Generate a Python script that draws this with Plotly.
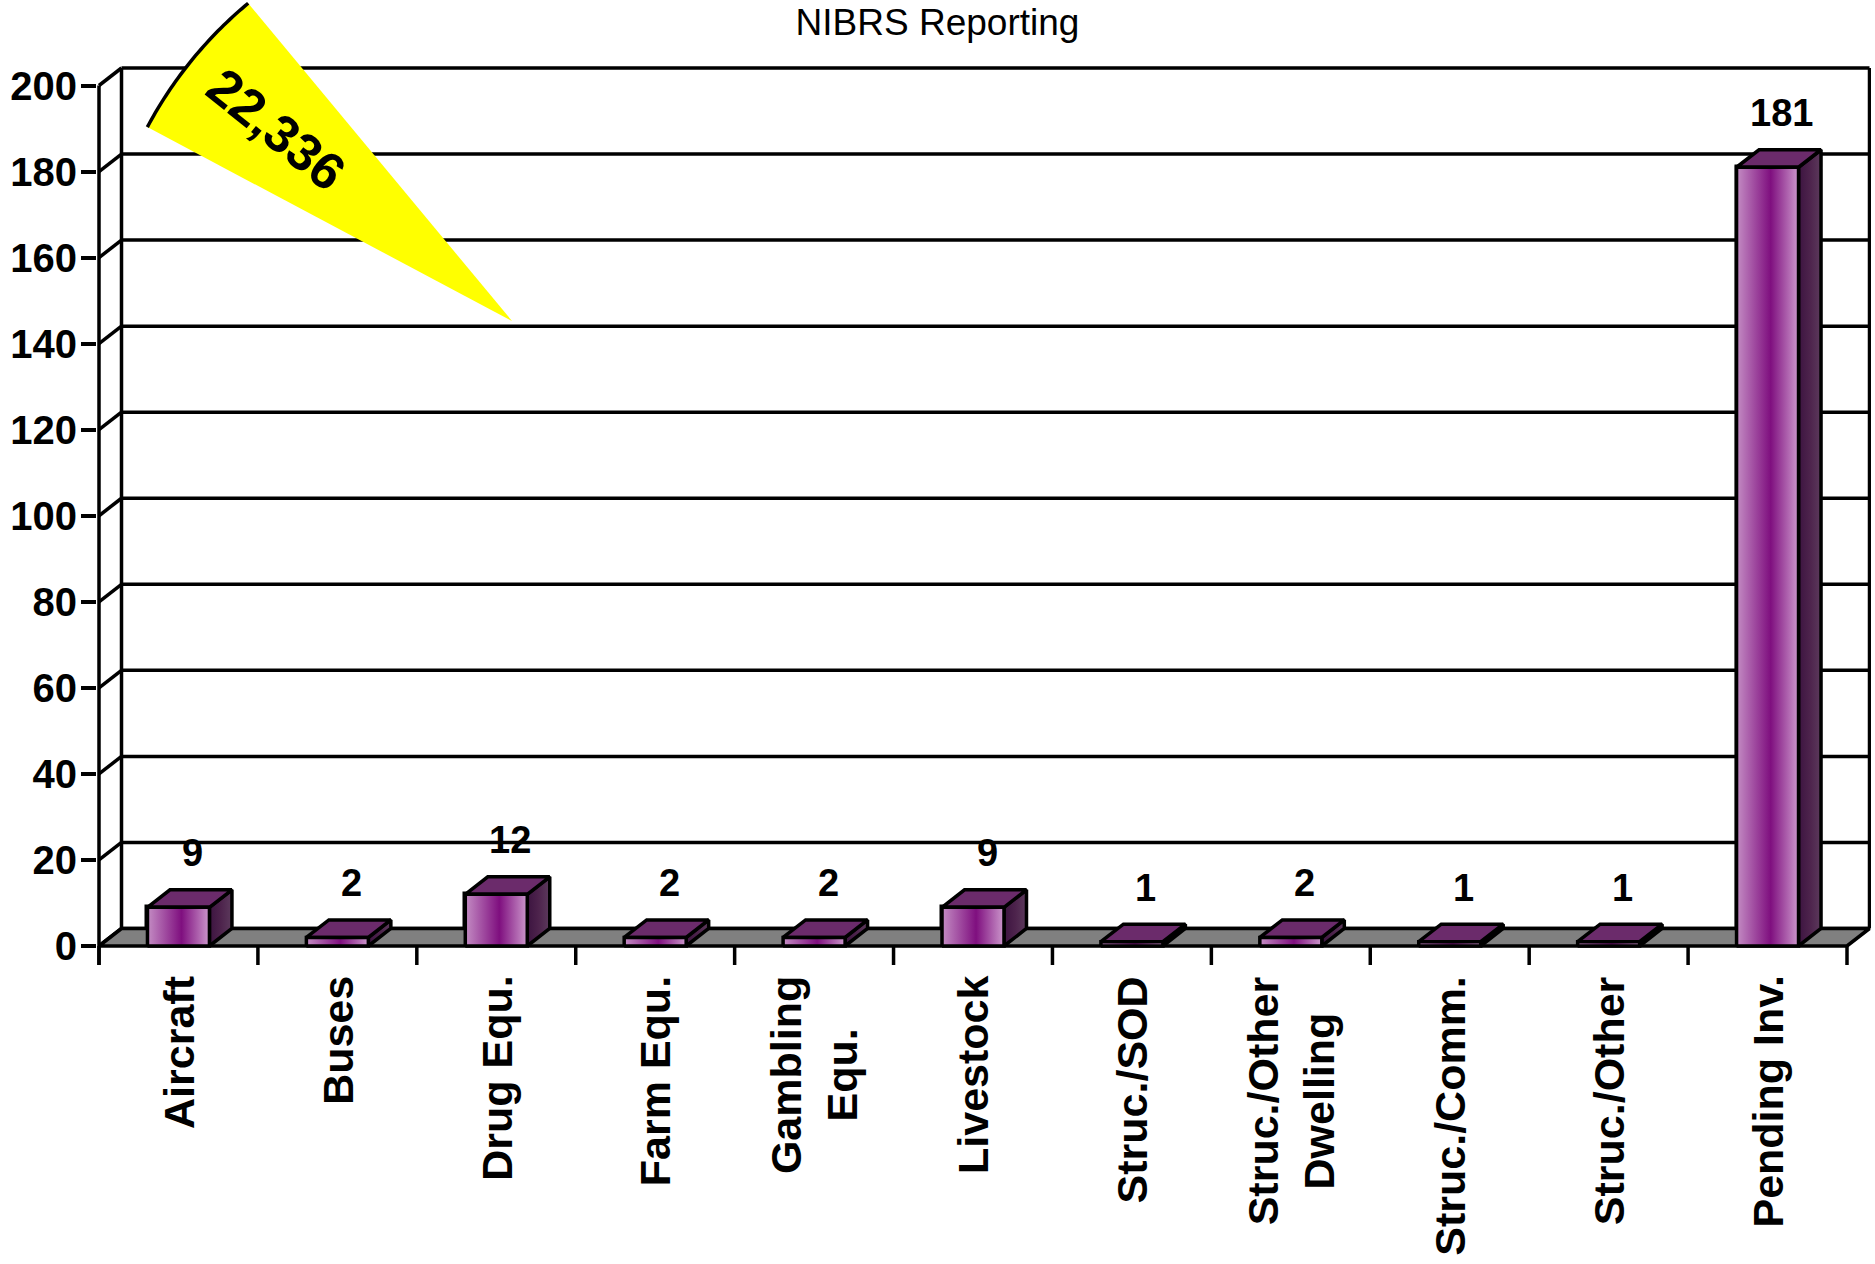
import numpy as np
import plotly.graph_objects as go

# ---------------- data ----------------
categories = ["Aircraft", "Buses", "Drug Equ.", "Farm Equ.", "Gambling<br>Equ.",
              "Livestock", "Struc./SOD", "Struc./Other<br>Dwelling", "Struc./Comm.",
              "Struc./Other", "Pending Inv."]
values = [9, 2, 12, 2, 2, 9, 1, 2, 1, 1, 181]
y_ticks = [0, 20, 40, 60, 80, 100, 120, 140, 160, 180, 200]
title_text = "NIBRS Reporting"
callout_text = "22,336"

# ---------------- geometry / style ----------------
W, H = 1875, 1264
X0_PX = 99.0                   # pixel of the left category boundary
PPX = (1847.0 - 99.0) / 11     # pixels per category
Y0_PX = 946.0                  # pixel of value 0
PPY = (946.0 - 85.5) / 200     # pixels per unit
PLOT_L, PLOT_R, PLOT_T, PLOT_B = 97, 1871, 62, 967
DX = 22.5 / PPX                # 3-D depth in data units
DY = 17.5 / PPY
BAR_W = 0.39
TICK_DOWN = 19.0 / PPY

n = len(categories)
idx = np.arange(n)

def px_to_x(px):
    return -0.5 + (px - X0_PX) / PPX

def py_to_y(py):
    return (Y0_PX - py) / PPY

def to_paper_x(px):
    return (px - PLOT_L) / (PLOT_R - PLOT_L)

def to_paper_y(py):
    return (PLOT_B - py) / (PLOT_B - PLOT_T)

SANS = "Liberation Sans, Arial, sans-serif"
LW = 3.5

fig = go.Figure()

def line_trace(xs, ys, width=LW, color="black"):
    fig.add_trace(go.Scatter(x=xs, y=ys, mode="lines", line=dict(color=color, width=width),
                             hoverinfo="skip", showlegend=False))

def poly(xs, ys, fill=None, grad=None, width=LW):
    kw = dict(fill="toself", mode="lines", line=dict(color="black", width=width),
              hoverinfo="skip", showlegend=False)
    if grad is not None:
        kw["fillgradient"] = dict(type="horizontal", colorscale=grad)
        kw["fillcolor"] = grad[1][1]
    else:
        kw["fillcolor"] = fill
    fig.add_trace(go.Scatter(x=list(xs) + [xs[0]], y=list(ys) + [ys[0]], **kw))

left_b = -0.5
right_b = n - 0.5

# base bars (front faces) through the bar module
fig.add_trace(go.Bar(x=idx, y=values, width=BAR_W, base=0,
                     marker=dict(color="#9a3f9a", line=dict(color="black", width=LW)),
                     hoverinfo="skip", showlegend=False))

# back wall gridlines
gx, gy = [], []
for v in y_ticks:
    gx += [left_b + DX, right_b + DX, None]
    gy += [v + DY, v + DY, None]
line_trace(gx, gy, width=3.5)
# back wall verticals
line_trace([left_b + DX, left_b + DX, None, right_b + DX, right_b + DX],
           [DY, max(y_ticks) + DY, None, DY, max(y_ticks) + DY])
# slanted connectors on the side wall
sx, sy = [], []
for v in y_ticks:
    sx += [left_b, left_b + DX, None]
    sy += [v, v + DY, None]
line_trace(sx, sy)

# floor
poly([left_b, right_b, right_b + DX, left_b + DX], [0, 0, DY, DY], fill="#808080")

# front axis line and category boundary ticks
line_trace([left_b, left_b], [-TICK_DOWN, max(y_ticks)])
tx, ty = [], []
for b in np.arange(n + 1) - 0.5:
    tx += [b, b, None]
    ty += [0, -TICK_DOWN, None]
line_trace(tx, ty)

# 3-D bars
front_grad = [[0, "#c48dc4"], [0.55, "#7f0f7f"], [1, "#cc98cc"]]
side_grad = [[0, "#3c1440"], [0.5, "#4d234c"], [1, "#5c3a5c"]]
for i, v in enumerate(values):
    x0, x1 = i - BAR_W / 2, i + BAR_W / 2
    poly([x1, x1 + DX, x1 + DX, x1], [0, DY, v + DY, v], grad=side_grad)
    poly([x0, x1, x1 + DX, x0 + DX], [v, v, v + DY, v + DY], fill="#6b2b6b")
    poly([x0, x1, x1, x0], [0, 0, v, v], grad=front_grad)

annotations = []
# value labels
for i, v in enumerate(values):
    annotations.append(dict(x=i, y=v, xref="x", yref="y", text=str(v), showarrow=False,
                            xshift=14, yshift=54, xanchor="center", yanchor="middle",
                            font=dict(family=SANS, size=38, color="black", weight="bold")))
# category labels
for i, c in enumerate(categories):
    annotations.append(dict(x=i, y=0, xref="x", yref="y", text=c, showarrow=False,
                            textangle=-90, yanchor="top", xanchor="center", yshift=-28,
                            align="center",
                            font=dict(family=SANS, size=43, color="black", weight="bold")))

# yellow callout wedge
VX, VY, R = 512.0, 321.0, 413.0
th = np.radians(np.linspace(129.7, 152.0, 40))
arc_px = VX + R * np.cos(th)
arc_py = VY - R * np.sin(th)
wedge = "M {:.5f},{:.5f} ".format(to_paper_x(VX), to_paper_y(VY))
wedge += " ".join("L {:.5f},{:.5f}".format(to_paper_x(a), to_paper_y(b)) for a, b in zip(arc_px, arc_py))
wedge += " Z"
arc = "M " + " L ".join("{:.5f},{:.5f}".format(to_paper_x(a), to_paper_y(b)) for a, b in zip(arc_px, arc_py))
shapes = [
    dict(type="path", path=wedge, xref="paper", yref="paper", fillcolor="#ffff00",
         line=dict(width=0), layer="above"),
    dict(type="path", path=arc, xref="paper", yref="paper", line=dict(color="black", width=3.5),
         layer="above"),
]
annotations.append(dict(x=to_paper_x(276), y=to_paper_y(129), xref="paper", yref="paper",
                        xanchor="center", yanchor="middle",
                        text=callout_text, showarrow=False, textangle=39,
                        font=dict(family=SANS, size=52, color="black", weight="bold")))

fig.update_layout(
    width=W, height=H,
    margin=dict(l=PLOT_L, r=W - PLOT_R, t=PLOT_T, b=H - PLOT_B, pad=0, autoexpand=False),
    paper_bgcolor="white", plot_bgcolor="white",
    title=dict(text=title_text, x=0.5, xref="container", xanchor="center",
               y=1 - 22 / H, yref="container", yanchor="middle", automargin=False,
               font=dict(family=SANS, size=37, color="black")),
    xaxis=dict(range=[px_to_x(PLOT_L), px_to_x(PLOT_R)], showgrid=False, zeroline=False,
               showticklabels=False, ticks="", showline=False, fixedrange=True,
               automargin=False),
    yaxis=dict(range=[py_to_y(PLOT_B), py_to_y(PLOT_T)], tickvals=y_ticks,
               ticktext=[str(t) for t in y_ticks], ticks="outside", ticklen=15, tickwidth=3.5,
               tickcolor="black", showgrid=False, zeroline=False, showline=False,
               ticklabelstandoff=-4, automargin=False,
               tickfont=dict(family=SANS, size=40, color="black", weight="bold")),
    shapes=shapes,
    annotations=annotations,
    bargap=0,
)

fig.write_html("out.html", config={"displayModeBar": False},
               post_script="document.body.style.margin='0';document.body.style.overflow='hidden';")
